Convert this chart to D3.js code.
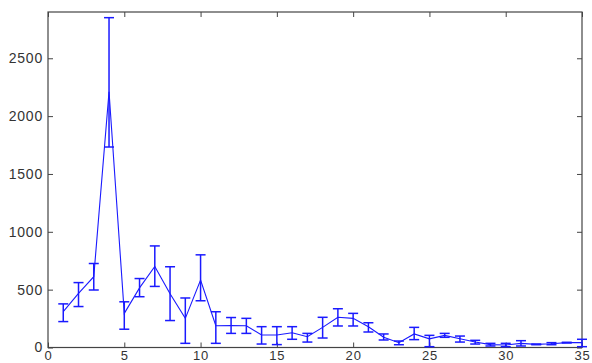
<!DOCTYPE html>
<html>
<head>
<meta charset="utf-8">
<script src="https://cdn.jsdelivr.net/npm/d3@7"></script>
<style>
  html, body { margin: 0; padding: 0; background: #fff; }
  svg { display: block; }
  .tick text { font-family: "Liberation Sans", Arial, sans-serif; font-size: 14px; fill: #333; letter-spacing: 0.8px; }
  .xax .tick text { font-size: 13px; }
</style>
</head>
<body>
<svg id="chart" width="592" height="363"></svg>
<script>
const xValues = [1,2,3,4,5,6,7,8,9,10,11,12,13,14,15,16,17,18,19,20,21,22,23,24,25,26,27,28,29,30,31,32,33,34,35];
const yValues = [310,468,612,2210,295,515,700,465,252,583,188,190,188,108,108,128,93,174,261,252,180,88,41,117,75,105,75,48,25,22,36,27,33,42,42];
const errUpper = [67,93,114,641,100,81,178,233,176,218,121,69,64,72,72,52,29,87,74,43,34,29,15,57,30,17,24,14,11,14,23,3,9,3,29];
const errLower = [86,114,115,477,137,76,172,232,216,179,152,68,66,78,83,57,46,92,75,66,46,23,17,49,68,17,28,18,12,15,23,3,9,3,35];
const xTicks = [0,5,10,15,20,25,30,35];
const yTicks = [0,500,1000,1500,2000,2500];
const xDomain = [0, 35];
const yDomain = [0, 2900];

const mLeft = 48, mRight = 582, mTop = 12, mBottom = 347.5;
const svg = d3.select("#chart");
const x = d3.scaleLinear().domain(xDomain).range([mLeft, mRight]);
const y = d3.scaleLinear().domain(yDomain).range([mBottom, mTop]);

const data = xValues.map((d, i) => ({x: d, y: yValues[i], lo: yValues[i] - errLower[i], hi: yValues[i] + errUpper[i]}));

const axisColor = "#444";
svg.append("rect").attr("x", mLeft).attr("y", mTop).attr("width", mRight - mLeft).attr("height", mBottom - mTop)
  .attr("fill", "none").attr("stroke", axisColor).attr("stroke-width", 1.2);

const gx = svg.append("g").attr("class", "xax").attr("transform", `translate(0,${mBottom})`)
  .call(d3.axisBottom(x).tickValues(xTicks).tickSize(-5).tickPadding(3.5).tickFormat(d3.format("d")));
gx.select(".domain").remove();
gx.selectAll(".tick line").attr("stroke", axisColor);
const gxt = svg.append("g").attr("transform", `translate(0,${mTop})`)
  .call(d3.axisTop(x).tickValues(xTicks).tickSize(-5).tickFormat(""));
gxt.select(".domain").remove();
gxt.selectAll(".tick line").attr("stroke", axisColor);

const gy = svg.append("g").attr("transform", `translate(${mLeft},0)`)
  .call(d3.axisLeft(y).tickValues(yTicks).tickSize(-5).tickPadding(5).tickFormat(d3.format("d")));
gy.select(".domain").remove();
gy.selectAll(".tick line").attr("stroke", axisColor);
const gyr = svg.append("g").attr("transform", `translate(${mRight},0)`)
  .call(d3.axisRight(y).tickValues(yTicks).tickSize(-5).tickFormat(""));
gyr.select(".domain").remove();
gyr.selectAll(".tick line").attr("stroke", axisColor);

const blue = "#1a1aff";
const plot = svg.append("g");
const eb = plot.selectAll(".eb").data(data).enter().append("g").attr("class", "eb")
  .attr("stroke", blue).attr("stroke-width", 1.5);
eb.append("line").attr("x1", d => x(d.x)).attr("x2", d => x(d.x)).attr("y1", d => y(d.lo)).attr("y2", d => y(d.hi));
eb.append("line").attr("x1", d => x(d.x) - 5).attr("x2", d => x(d.x) + 5).attr("y1", d => y(d.lo)).attr("y2", d => y(d.lo));
eb.append("line").attr("x1", d => x(d.x) - 5).attr("x2", d => x(d.x) + 5).attr("y1", d => y(d.hi)).attr("y2", d => y(d.hi));

plot.append("path").datum(data)
  .attr("fill", "none").attr("stroke", blue).attr("stroke-width", 1.1)
  .attr("d", d3.line().x(d => x(d.x)).y(d => y(d.y)));
</script>
</body>
</html>
